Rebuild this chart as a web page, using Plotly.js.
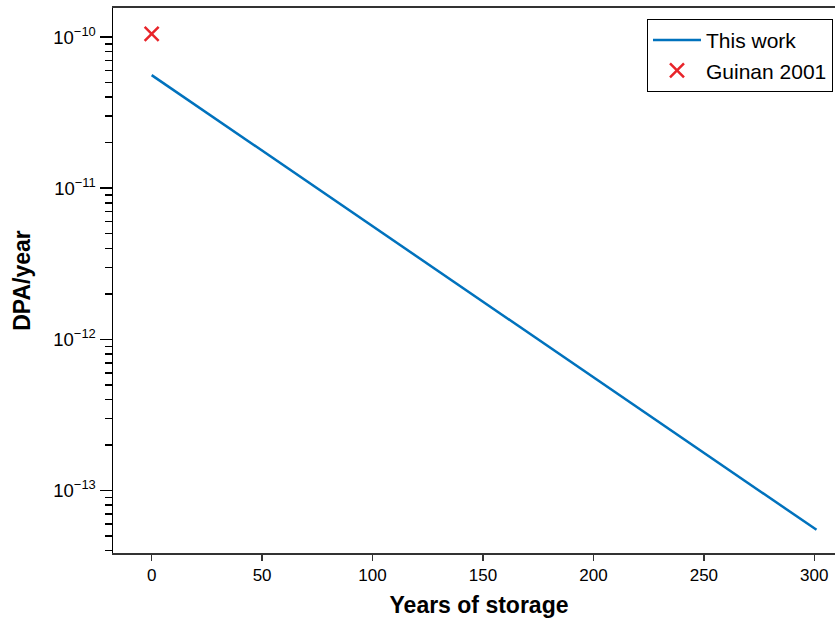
<!DOCTYPE html>
<html>
<head>
<meta charset="utf-8">
<script src="https://cdn.plot.ly/plotly-3.0.1.min.js"></script>
<style>
html,body{margin:0;padding:0;overflow:hidden;background:#fff;}
#chart{width:845px;height:621px;}
</style>
</head>
<body>
<div id="chart"></div>
<script>
// Data
var workYears = [0, 301];
var workDPA = [5.6e-11, 5.5e-14];
var guinanYears = [0];
var guinanDPA = [1.05e-10];
var yTickVals = [1e-13, 1e-12, 1e-11, 1e-10];
var yTickExps = ['\u221213', '\u221212', '\u221211', '\u221210'];
var xTickVals = [0, 50, 100, 150, 200, 250, 300];

var yTickText = yTickExps.map(function (e) {
  return '10<sup>' + e + '</sup>';
});

var minorVals = [];
[-14, -13, -12, -11, -10].forEach(function (e) {
  for (var m = 2; m <= 9; m++) minorVals.push(m * Math.pow(10, e));
});

var traces = [
  {
    x: workYears, y: workDPA, type: 'scatter', mode: 'lines', name: 'This work',
    line: {color: '#0072BD', width: 2.5}
  },
  {
    x: guinanYears, y: guinanDPA, type: 'scatter', mode: 'markers', name: 'Guinan 2001',
    marker: {symbol: 'x-thin', size: 14, line: {color: '#E8242A', width: 2.5}, color: '#E8242A'}
  }
];

var layout = {
  width: 845, height: 621,
  margin: {l: 113, r: 0, t: 8, b: 68},
  paper_bgcolor: '#fff', plot_bgcolor: '#fff',
  font: {family: 'Liberation Sans, Arial, sans-serif', color: '#000', size: 17},
  showlegend: true,
  legend: {
    x: 0.9836, y: 0.98, xanchor: 'right', yanchor: 'top',
    bgcolor: '#fff', bordercolor: '#000', borderwidth: 1,
    font: {size: 21, color: '#000'}, tracegroupgap: 0, itemwidth: 48
  },
  xaxis: {
    range: [-17.5, 313.9], tickmode: 'array', tickvals: xTickVals,
    ticks: 'outside', ticklen: 6, tickwidth: 1.5, tickcolor: '#333',
    showline: true, linecolor: '#333', linewidth: 2, mirror: true,
    showgrid: false, zeroline: false,
    tickfont: {size: 17},
    title: {text: '<b>Years of storage</b>', font: {size: 23}, standoff: 12}
  },
  yaxis: {
    type: 'log', range: [-13.413, -9.808],
    tickmode: 'array', tickvals: yTickVals, ticktext: yTickText,
    ticks: 'outside', ticklen: 12, tickwidth: 1.5, tickcolor: '#000',
    showline: true, linecolor: '#000', linewidth: 1.5,
    showgrid: false, zeroline: false,
    tickfont: {size: 18.5},
    minor: {tickmode: 'array', tickvals: minorVals, ticks: 'outside', ticklen: 7, tickwidth: 1.5, tickcolor: '#000', showgrid: false},
    title: {text: '<b>DPA/year</b>', font: {size: 23}, standoff: 16}
  }
};

Plotly.newPlot('chart', traces, layout, {displayModeBar: false, staticPlot: true});
</script>
</body>
</html>
